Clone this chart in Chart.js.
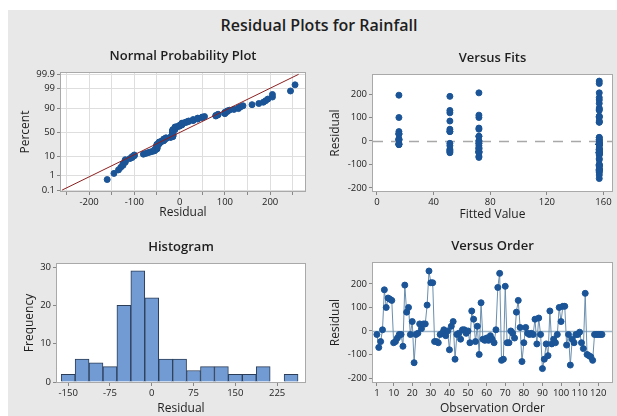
<!DOCTYPE html>
<html>
<head>
<meta charset="utf-8">
<script src="https://cdn.jsdelivr.net/npm/chart.js@4.4.1/dist/chart.umd.min.js"></script>
<style>
body { margin: 0; background: #fff; width: 617px; height: 416px; overflow: hidden; position: relative; }
#frame { position: absolute; left: 8px; top: 10px; width: 609px; height: 406px; background: #e8e8e8; }
#title { position: absolute; left: 0; width: 638px; top: 14px; text-align: center; font: 600 16px "Open Sans"; color: #1e1e1e; }
canvas { position: absolute; }
</style>
</head>
<body>
<div id="frame"></div>
<div id="title">Residual Plots for Rainfall</div>
<canvas id="npp" width="302" height="187" style="left:8px;top:38px"></canvas>
<canvas id="fits" width="307" height="187" style="left:310px;top:38px"></canvas>
<canvas id="hist" width="302" height="188" style="left:8px;top:228px"></canvas>
<canvas id="order" width="307" height="188" style="left:310px;top:228px"></canvas>
<script>
// residuals in observation order
const residuals = [
  -15, -70, -45, 5, 175, 100, 140, 135, 130, -50,
  -45, -30, -15, -15, -65, 195, 80, 100, -15, 40,
  -135, -15, -10, 30, 10, 30, 30, 110, 255, 205,
  205, -45, -45, -50, -15, -10, 5, -20, 0, -80,
  20, 40, -120, -15, -10, -35, 5, 5, -10, 0,
  -50, 85, 50, -45, 20, -100, 120, -35, -40, -30,
  -40, -20, -35, -50, 5, 185, 245, -125, -120, 190,
  -50, -50, 0, -10, -30, 80, 130, 15, -130, -50,
  15, -10, -15, -10, -15, 50, -55, 55, -15, -160,
  -120, -55, -105, 85, -55, -35, -50, -15, 100, 40,
  105, 105, -60, -15, -145, -35, -50, -15, -15, -5,
  -50, -75, 160, -100, -105, -110, -125, -15, -15, -15,
  -15, -15
];
// fitted value of each observation (four fitted levels)
const fitted = [
  15.5, 72, 72, 15.5, 157, 72, 157, 157, 157, 72,
  72, 157, 157, 157, 72, 15.5, 157, 15.5, 157, 15.5,
  157, 15.5, 15.5, 15.5, 15.5, 15.5, 15.5, 72, 157, 157,
  72, 72, 157, 157, 157, 72, 15.5, 72, 72, 157,
  72, 51.5, 157, 15.5, 157, 72, 15.5, 157, 51.5, 157,
  157, 51.5, 51.5, 51.5, 72, 157, 51.5, 51.5, 51.5, 72,
  157, 51.5, 157, 51.5, 157, 157, 157, 157, 157, 51.5,
  72, 157, 72, 72, 72, 157, 51.5, 157, 157, 157,
  157, 157, 157, 157, 157, 72, 157, 72, 157, 157,
  157, 157, 157, 157, 157, 157, 157, 157, 157, 51.5,
  157, 157, 157, 157, 157, 157, 157, 157, 157, 157,
  157, 157, 157, 157, 157, 157, 157, 157, 157, 157,
  157, 157
];
// histogram of residuals
const binCenters = [-150, -125, -100, -75, -50, -25, 0, 25, 50, 75, 100, 125, 150, 175, 200, 225, 250];
const binCounts = [2, 6, 5, 4, 20, 29, 22, 6, 6, 3, 4, 4, 2, 2, 4, 0, 2];
// tick labels
const percentTicks = [0.1, 1, 10, 50, 90, 99, 99.9];
const nppXTicks = [-250, -200, -150, -100, -50, 0, 50, 100, 150, 200, 250];
const histXTicks = [-150, -75, 0, 75, 150, 225];
const fitsXTicks = [0, 40, 80, 120, 160];
const orderXTicks = [1, 10, 20, 30, 40, 50, 60, 70, 80, 90, 100, 110, 120];
const residualYTicks = [-200, -100, 0, 100, 200];

// inverse standard normal cdf (Acklam)
function probit(p) {
  const a = [-3.969683028665376e+01, 2.209460984245205e+02, -2.759285104469687e+02, 1.383577518672690e+02, -3.066479806614716e+01, 2.506628277459239e+00];
  const b = [-5.447609879822406e+01, 1.615858368580409e+02, -1.556989798598866e+02, 6.680131188771972e+01, -1.328068155288572e+01];
  const c = [-7.784894002430293e-03, -3.223964580411365e-01, -2.400758277161838e+00, -2.549732539343734e+00, 4.374664141464968e+00, 2.938163982698783e+00];
  const d = [7.784695709041462e-03, 3.224671290700398e-01, 2.445134137142996e+00, 3.754408661907416e+00];
  const pl = 0.02425;
  let q, r;
  if (p < pl) {
    q = Math.sqrt(-2 * Math.log(p));
    return (((((c[0]*q+c[1])*q+c[2])*q+c[3])*q+c[4])*q+c[5]) / ((((d[0]*q+d[1])*q+d[2])*q+d[3])*q+1);
  }
  if (p <= 1 - pl) {
    q = p - 0.5; r = q * q;
    return (((((a[0]*r+a[1])*r+a[2])*r+a[3])*r+a[4])*r+a[5])*q / (((((b[0]*r+b[1])*r+b[2])*r+b[3])*r+b[4])*r+1);
  }
  q = Math.sqrt(-2 * Math.log(1 - p));
  return -(((((c[0]*q+c[1])*q+c[2])*q+c[3])*q+c[4])*q+c[5]) / ((((d[0]*q+d[1])*q+d[2])*q+d[3])*q+1);
}

const n = residuals.length;
const sorted = [...residuals].sort((a, b) => a - b);
const nppPoints = sorted.map((r, i) => ({ x: r, y: probit((i + 1 - 0.3) / (n + 0.4)) }));
const mean = residuals.reduce((s, v) => s + v, 0) / n;
const sd = Math.sqrt(residuals.reduce((s, v) => s + (v - mean) ** 2, 0) / (n - 1));
const zLo = probit(0.001), zHi = probit(0.999);
const nppLine = [{ x: mean + zLo * sd, y: zLo }, { x: mean + zHi * sd, y: zHi }];

const DOT = '#1b5597';
const TICK_FONT = { family: 'Open Sans', size: 9.5 };
const AXIS_FONT = { family: 'Open Sans', size: 12 };

// white plot area, border, reference line and panel title
const panel = {
  id: 'panel',
  beforeDraw(chart) {
    const { ctx, chartArea: a } = chart;
    ctx.save();
    ctx.fillStyle = '#fff';
    ctx.fillRect(a.left, a.top, a.right - a.left, a.bottom - a.top);
    ctx.restore();
  },
  beforeDatasetsDraw(chart, args, opts) {
    if (!opts.refLine) return;
    const { ctx, chartArea: a, scales: { y } } = chart;
    const py = Math.round(y.getPixelForValue(0)) + 0.5;
    ctx.save();
    ctx.strokeStyle = opts.refLine.color;
    ctx.lineWidth = opts.refLine.width;
    ctx.setLineDash(opts.refLine.dash || []);
    ctx.beginPath();
    ctx.moveTo(a.left, py);
    ctx.lineTo(a.right, py);
    ctx.stroke();
    ctx.restore();
  },
  afterDraw(chart, args, opts) {
    const { ctx, chartArea: a } = chart;
    ctx.save();
    ctx.strokeStyle = '#a9a9a9';
    ctx.lineWidth = 1;
    ctx.strokeRect(a.left - 0.5, a.top - 0.5, a.right - a.left + 1, a.bottom - a.top + 1);
    ctx.fillStyle = '#1e1e1e';
    ctx.font = '600 13px "Open Sans"';
    ctx.textAlign = 'center';
    ctx.textBaseline = 'middle';
    ctx.fillText(opts.title, (a.left + a.right) / 2, a.top - opts.titleGap);
    ctx.restore();
  }
};

function axis(o) {
  return {
    type: 'linear',
    min: o.min, max: o.max,
    offset: false,
    afterBuildTicks: s => { s.ticks = o.ticks.map(v => ({ value: v })); },
    afterFit: s => { if (o.width) s.width = o.width; if (o.height) s.height = o.height; },
    ticks: {
      font: TICK_FONT, color: '#222', padding: 2, autoSkip: false, maxRotation: 0,
      callback: o.label || (v => v)
    },
    grid: {
      offset: false,
      drawOnChartArea: !!o.grid, color: o.grid ? '#dedede' : '#888',
      tickColor: '#888', tickLength: 4, drawTicks: true
    },
    border: { display: false },
    title: { display: true, text: o.title, font: AXIS_FONT, color: '#1e1e1e', padding: o.titlePad }
  };
}

function common(padTop, padRight, title, refLine) {
  return {
    responsive: false, animation: false,
    layout: { padding: { top: padTop, right: padRight, left: 0, bottom: 0 } },
    plugins: { legend: { display: false }, tooltip: { enabled: false }, title: { display: false },
      panel: { title: title, titleGap: 17, refLine: refLine } }
  };
}

new Chart(document.getElementById('npp'), {
  type: 'scatter',
  data: {
    datasets: [
      { data: nppLine, showLine: true, borderColor: '#8c2020', borderWidth: 1, pointRadius: 0 },
      { data: nppPoints, backgroundColor: DOT, borderColor: DOT, pointRadius: 3 }
    ]
  },
  options: Object.assign(common(35, 5, 'Normal Probability Plot'), {
    scales: {
      x: axis({ min: -262, max: 277, ticks: nppXTicks, grid: true, height: 34, title: 'Residual',
        titlePad: { top: 0, bottom: 5 }, label: v => (v % 100 === 0 ? v : '') }),
      y: axis({ min: -3.14, max: 3.16, ticks: percentTicks.map(p => probit(p / 100)), grid: true, width: 53,
        title: 'Percent', titlePad: { top: 10, bottom: 0 }, label: (v, i) => percentTicks[i] })
    }
  }),
  plugins: [panel]
});

new Chart(document.getElementById('fits'), {
  type: 'scatter',
  data: {
    datasets: [
      { data: fitted.map((f, i) => ({ x: f, y: residuals[i] })), backgroundColor: DOT, borderColor: DOT, pointRadius: 3 }
    ]
  },
  options: Object.assign(common(37, 0, 'Versus Fits', { color: '#a8a8a8', width: 1.5, dash: [10, 8] }), {
    scales: {
      x: axis({ min: -2.8, max: 166, ticks: fitsXTicks, height: 34, title: 'Fitted Value', titlePad: { top: 0, bottom: 3 } }),
      y: axis({ min: -213, max: 281, ticks: residualYTicks, width: 63, title: 'Residual', titlePad: { top: 18, bottom: 0 } })
    }
  }),
  plugins: [panel]
});

new Chart(document.getElementById('hist'), {
  type: 'bar',
  data: {
    datasets: [
      { data: binCenters.map((c, i) => ({ x: c, y: binCounts[i] })), backgroundColor: '#729bd3', borderColor: '#2b3d57',
        borderWidth: 1, barPercentage: 1, categoryPercentage: 1 }
    ]
  },
  options: Object.assign(common(36, 5, 'Histogram'), {
    scales: {
      x: axis({ min: -170, max: 275, ticks: histXTicks, height: 34, title: 'Residual', titlePad: { top: 0, bottom: 0 } }),
      y: axis({ min: 0, max: 30.8, ticks: [0, 10, 20, 30], width: 49, title: 'Frequency', titlePad: { top: 14, bottom: 0 } })
    }
  }),
  plugins: [panel]
});

new Chart(document.getElementById('order'), {
  type: 'scatter',
  data: {
    datasets: [
      { data: residuals.map((r, i) => ({ x: i + 1, y: r })), showLine: true, borderColor: '#6b8fae', borderWidth: 1,
        backgroundColor: DOT, pointBorderColor: DOT, pointRadius: 3 }
    ]
  },
  options: Object.assign(common(35, 0, 'Versus Order', { color: '#9fb6c8', width: 1.5 }), {
    scales: {
      x: axis({ min: -1.1, max: 127.4, ticks: orderXTicks, height: 34, title: 'Observation Order', titlePad: { top: 0, bottom: 0 } }),
      y: axis({ min: -217, max: 289, ticks: residualYTicks, width: 63, title: 'Residual', titlePad: { top: 18, bottom: 0 } })
    }
  }),
  plugins: [panel]
});
</script>
</body>
</html>
